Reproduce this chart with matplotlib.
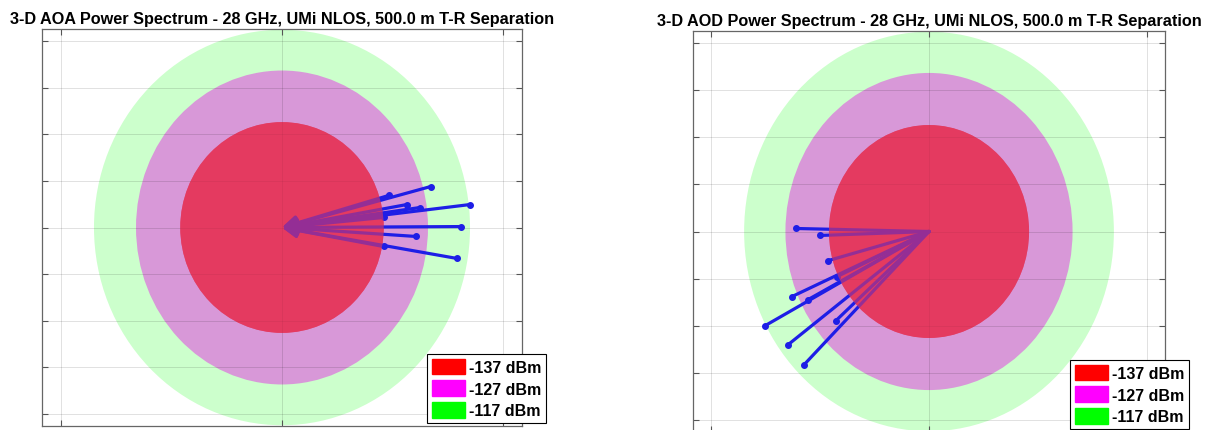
import matplotlib.pyplot as plt
from matplotlib.patches import Ellipse, Patch

plt.rcParams['font.family'] = ['Liberation Sans', 'DejaVu Sans']

# power levels of the three rings and their half-widths / half-heights (axis units)
levels_dbm = [-137, -127, -117]
ring_rx = [0.46, 0.66, 0.85]
ring_ry = [0.566, 0.843, 1.062]
ring_colors = ['#E43A60', '#D898D8', '#CCFFCC']
legend_colors = ['#FF0000', '#FF00FF', '#00FF00']

# ray end points (x, y), origin at the centre
aoa_x = [0.672, 0.848, 0.808, 0.790, 0.604, 0.563, 0.482, 0.622, 0.459, 0.459]
aoa_y = [0.220, 0.123, 0.005, -0.166, -0.048, 0.123, 0.172, 0.107, -0.102, 0.054]
aod_x = [-0.611, -0.501, -0.464, -0.630, -0.754, -0.648, -0.575, -0.428, -0.423, -0.556]
aod_y = [0.016, -0.021, -0.155, -0.346, -0.501, -0.602, -0.709, -0.474, -0.240, -0.362]

title_fmt = '3-D {} Power Spectrum - 28 GHz, UMi NLOS, 500.0 m T-R Separation'
ray_color = '#1E1EE6'

fig = plt.figure(figsize=(12.18, 4.31), dpi=100)
ax1 = fig.add_axes([42 / 1218, 4 / 431, 480 / 1218, 397 / 431])
ax2 = fig.add_axes([693 / 1218, -2 / 431, 472 / 1218, 401 / 431])


def draw_panel(ax, xs, ys, kind, arrows):
    # rings, largest first
    for rx, ry, c in reversed(list(zip(ring_rx, ring_ry, ring_colors))):
        ax.add_patch(Ellipse((0, 0), 2 * rx, 2 * ry, color=c, lw=0, zorder=1))
    for x, y in zip(xs, ys):
        if arrows:
            ax.annotate('', xy=(0, 0), xytext=(x, y),
                        arrowprops=dict(arrowstyle='-|>', color=ray_color, lw=2.3,
                                        mutation_scale=22, shrinkA=0, shrinkB=0),
                        zorder=3)
        else:
            ax.plot([0, x], [0, y], color=ray_color, lw=2.3, zorder=3,
                    solid_capstyle='round')
        ax.plot([x], [y], 'o', color=ray_color, ms=4, zorder=3)
    # translucent red ring on top tints the rays inside it
    ax.add_patch(Ellipse((0, 0), 2 * ring_rx[0], 2 * ring_ry[0], color=ring_colors[0],
                         alpha=0.6, lw=0, zorder=4))

    ax.set_xlim(-1.085, 1.085)
    ax.set_ylim(-1.066, 1.066)
    ax.set_xticks([-1, 0, 1])
    ax.set_yticks([-1, -0.75, -0.5, -0.25, 0, 0.25, 0.5, 0.75, 1])
    ax.set_xticklabels([])
    ax.set_yticklabels([])
    ax.tick_params(direction='in', length=4, width=0.8, color='#555555',
                   top=True, right=True)
    ax.grid(True, color='black', alpha=0.12, lw=0.7, zorder=2.5)
    for s in ax.spines.values():
        s.set_color('#666666')
        s.set_linewidth(0.9)
    ax.set_title(title_fmt.format(kind), fontsize=11.7, fontweight='bold', pad=4)


draw_panel(ax1, aoa_x, aoa_y, 'AOA', True)
draw_panel(ax2, aod_x, aod_y, 'AOD', False)

handles = [Patch(facecolor=c, edgecolor=c) for c in legend_colors]
labels = ['{} dBm'.format(v) for v in levels_dbm]
for bx, by in [(427, 355), (1070, 361)]:
    leg = fig.legend(handles, labels, loc='upper left',
                     bbox_to_anchor=(bx / 1218, 1 - by / 431),
                     prop={'size': 11.5, 'weight': 'bold'}, fancybox=False,
                     framealpha=1, edgecolor='black', borderaxespad=0,
                     handlelength=2.1, handleheight=1.1, handletextpad=0.2,
                     labelspacing=0.35, borderpad=0.3)
    leg.get_frame().set_linewidth(0.8)

fig.savefig('out.png', dpi=100)
